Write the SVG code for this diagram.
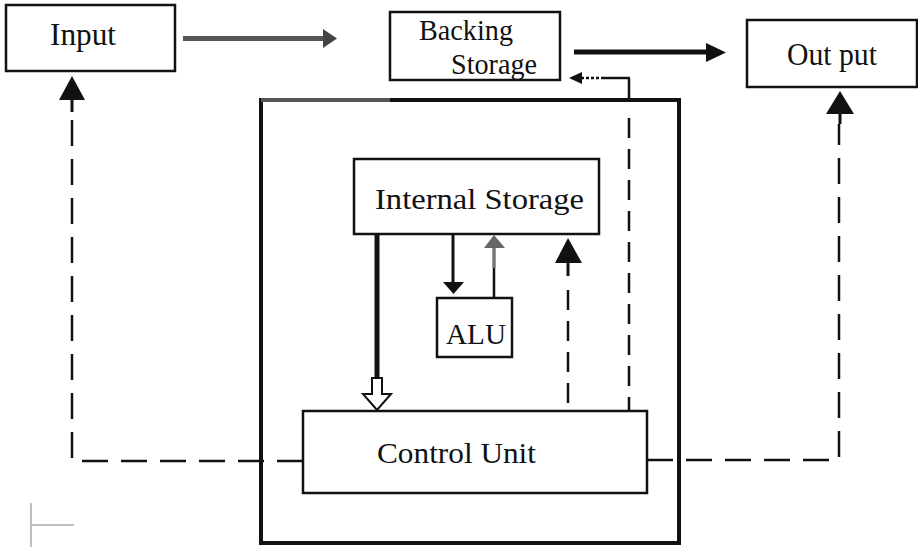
<svg xmlns="http://www.w3.org/2000/svg" width="918" height="547" viewBox="0 0 918 547">
<style>
.box{fill:#fff;stroke:#111;stroke-width:2.5}
.t{font-family:"Liberation Serif","Times New Roman",serif;font-size:30px;fill:#111}
.dash{fill:none;stroke:#111;stroke-width:2.5;stroke-dasharray:26 13}
.dash2{fill:none;stroke:#111;stroke-width:2.5;stroke-dasharray:20 11}
.solid{fill:none;stroke:#111}
.head{fill:#111}
</style>
<rect width="918" height="547" fill="#fff"/>
<g id="cpu-frame">
<path d="M261,100 H679 V543 H261 Z" fill="none" stroke="#111" stroke-width="4"/>
<line x1="261" y1="100" x2="390" y2="100" stroke="#555" stroke-width="4"/>
</g>
<g id="input"><rect class="box" x="6" y="5" width="169" height="66"/><text class="t" x="50" y="45" textLength="66" lengthAdjust="spacingAndGlyphs" style="font-size:32px">Input</text></g>
<g id="backing-storage"><rect class="box" x="390" y="12" width="170" height="68"/><text class="t" x="419" y="40" textLength="94" lengthAdjust="spacingAndGlyphs">Backing</text><text class="t" x="451" y="74" textLength="86" lengthAdjust="spacingAndGlyphs">Storage</text></g>
<g id="output"><rect class="box" x="747" y="20" width="170" height="67"/><text class="t" x="787" y="65" textLength="90" lengthAdjust="spacingAndGlyphs" style="font-size:31px">Out put</text></g>
<g id="internal-storage"><rect class="box" x="354" y="159" width="245" height="75"/><text class="t" x="375" y="209" textLength="209" lengthAdjust="spacingAndGlyphs">Internal  Storage</text></g>
<g id="alu"><rect class="box" x="437" y="298" width="75" height="59"/><text class="t" x="446" y="344" textLength="60" lengthAdjust="spacingAndGlyphs">ALU</text></g>
<g id="control-unit"><rect class="box" x="303" y="411" width="344" height="82"/><text class="t" x="377" y="463" textLength="159" lengthAdjust="spacingAndGlyphs">Control Unit</text></g>
<g id="connectors">
<line x1="183" y1="38.5" x2="326" y2="38.5" stroke="#555" stroke-width="5"/>
<polygon points="323,29 337,38.5 323,48" fill="#444"/>
<line x1="574" y1="52" x2="710" y2="52" stroke="#111" stroke-width="5"/>
<polygon points="706,43 726,52.5 706,62" class="head"/>
<line x1="629" y1="78" x2="629" y2="102" class="solid" stroke-width="2.5"/>
<line x1="629" y1="118" x2="629" y2="410" class="dash2"/>
<line x1="603" y1="78" x2="630" y2="78" class="solid" stroke-width="2.5"/>
<line x1="581" y1="78" x2="603" y2="78" stroke="#111" stroke-width="2.5" stroke-dasharray="3 2"/>
<polygon points="569,78 582,72 582,84" class="head"/>
<line x1="72" y1="98" x2="72" y2="112" class="solid" stroke-width="3"/>
<polygon points="72,76 85,100 59,100" class="head"/>
<path d="M303,461 H72 V112" class="dash"/>
<line x1="840" y1="110" x2="840" y2="124" class="solid" stroke-width="3"/>
<polygon points="840,91 854,114 826,114" class="head"/>
<path d="M647,460 H839 V124" class="dash"/>
<line x1="377" y1="234" x2="377" y2="380" class="solid" stroke-width="5"/>
<polygon points="372,378 382,378 382,394 391,394 377,410 363,394 372,394" fill="#fff" stroke="#111" stroke-width="2"/>
<line x1="453" y1="234" x2="453" y2="284" class="solid" stroke-width="3"/>
<polygon points="443,282 464,282 453.5,294" class="head"/>
<line x1="494" y1="298" x2="494" y2="268" class="solid" stroke-width="2.5"/>
<line x1="494" y1="268" x2="494" y2="245" stroke="#777" stroke-width="3.5"/>
<polygon points="484,248 494,235 505,248" fill="#666"/>
<line x1="568" y1="258" x2="568" y2="276" class="solid" stroke-width="3"/>
<line x1="568" y1="290" x2="568" y2="411" class="dash2"/>
<polygon points="568,238 582,263 555,263" class="head"/>
</g>
<g id="stray-mark" stroke="#aaa" stroke-width="1.5"><line x1="31" y1="503" x2="31" y2="547"/><line x1="32" y1="525" x2="74" y2="525"/></g>
</svg>
